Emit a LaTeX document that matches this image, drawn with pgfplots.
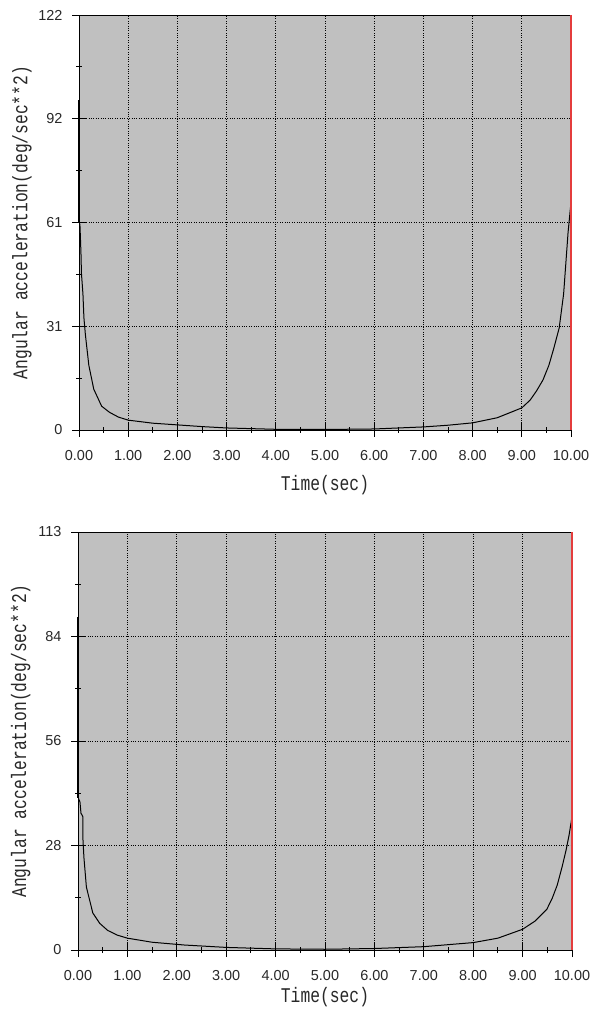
\documentclass[border=0pt]{standalone}
\usepackage{fontspec}
\setmainfont{Liberation Sans}
\newfontfamily\labelfont[FakeStretch=0.78]{Liberation Mono}
\usepackage{pgfplots}
\pgfplotsset{compat=1.18}

\definecolor{panel}{RGB}{192,192,192}
\definecolor{edge}{RGB}{228,60,60}
\definecolor{txt}{RGB}{40,40,40}

\pgfplotsset{
  accel/.style={
    scale only axis,
    clip=false,
    xmin=0, xmax=10,
    axis background/.style={fill=panel},
    axis line style={black, line width=0.9bp},
    tick pos=left,
    tick align=center,
    major tick length=14bp,
    minor tick length=6bp,
    tick style={black, line width=0.9bp},
    xtick={0,1,...,10},
    xticklabels={0.00,1.00,2.00,3.00,4.00,5.00,6.00,7.00,8.00,9.00,10.00},
    minor x tick num=1,
    minor y tick num=1,
    grid=major,
    major grid style={black, dotted, line width=0.7bp},
    ticklabel style={font=\fontsize{14.5}{17}\selectfont, text=txt},
    xticklabel style={yshift=-10bp},
    yticklabel style={xshift=-6bp},
    label style={font=\labelfont\fontsize{21}{24}\selectfont, text=txt},
    xlabel={Time(sec)},
    ylabel={Angular acceleration(deg/sec**2)},
    ylabel style={at={(axis description cs:-0.116,0.5)}, anchor=center},
    curve/.style={black, line width=1bp, mark=none},
    spike/.style={black, line width=2bp, mark=none},
  }
}

\begin{document}
\begin{tikzpicture}
\useasboundingbox (0,0) rectangle (590bp,1020bp);

% upper run
\begin{axis}[accel, name=upper,
  at={(79bp,590bp)}, anchor=south west,
  width=492bp, height=415bp,
  ymin=0, ymax=122,
  ytick={0,30.5,61,91.5,122},
  yticklabels={0,31,61,92,122},
  xlabel style={at={(axis description cs:0.5,-0.1325)}, anchor=center},
]
\addplot[spike] coordinates {(0.01,97) (0.01,61)};
\addplot[curve] coordinates {
  (0.01,61) (0.02,60) (0.04,52) (0.05,46) (0.08,40) (0.1,33)
  (0.13,28) (0.2,19) (0.3,12) (0.46,7) (0.62,5.2) (0.8,3.8)
  (1.0,2.9) (1.5,2.0) (2.0,1.5) (2.5,1.0) (3.0,0.6) (3.5,0.4)
  (4.0,0.2) (5.0,0.15) (6.0,0.3) (6.5,0.6) (7.0,0.9) (7.5,1.4)
  (8.0,2.1) (8.5,3.6) (9.0,6.5) (9.17,8.8) (9.3,11.5) (9.43,14.7)
  (9.55,19) (9.65,24) (9.76,30) (9.85,40) (9.94,58) (9.98,64) (10,67)
};
\end{axis}

% lower run
\begin{axis}[accel, name=lower,
  at={(78bp,70bp)}, anchor=south west,
  width=494bp, height=418bp,
  ymin=0, ymax=113,
  ytick={0,28.25,56.5,84.75,113},
  yticklabels={0,28,56,84,113},
  xlabel style={at={(axis description cs:0.5,-0.112)}, anchor=center},
]
\addplot[spike] coordinates {(0.01,90) (0.01,41)};
\addplot[curve] coordinates {
  (0.01,41) (0.04,40) (0.06,37) (0.1,36) (0.1,30) (0.12,25)
  (0.17,17) (0.3,10) (0.44,7.2) (0.6,5.3) (0.8,4.0) (1.0,3.2)
  (1.5,2.1) (2.15,1.35) (3.0,0.7) (4.0,0.3) (5.0,0.2) (6.0,0.4)
  (7.0,0.9) (8.0,2.0) (8.5,3.2) (9.0,5.6) (9.25,7.8) (9.49,11)
  (9.6,14) (9.7,17.5) (9.8,22.5) (9.88,27) (9.94,31) (10,36)
};
\end{axis}

% red right-hand frame edges
\draw[edge, line width=1.2bp] (upper.south east) -- (upper.north east);
\draw[edge, line width=1.2bp] (lower.south east) -- (lower.north east);
\end{tikzpicture}
\end{document}
